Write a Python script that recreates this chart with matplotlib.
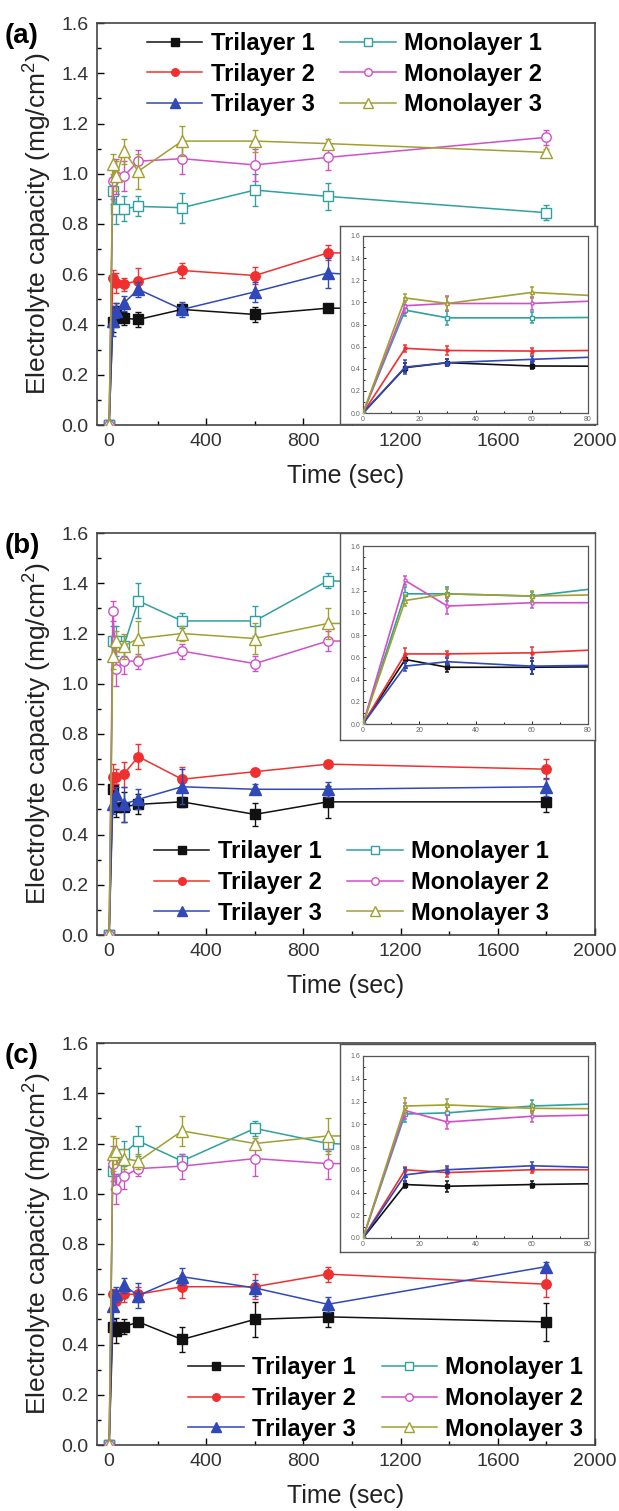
import matplotlib
matplotlib.use("Agg")
import matplotlib.pyplot as plt
from matplotlib.ticker import MultipleLocator

plt.rcParams.update({"font.family": ["Liberation Sans", "DejaVu Sans"], "mathtext.fontset": "custom",
                     "mathtext.rm": "Liberation Sans", "axes.linewidth": 1.2})

# time points (sec)
time = [0, 15, 30, 60, 120, 300, 600, 900, 1800]
labels = ["Trilayer 1", "Trilayer 2", "Trilayer 3", "Monolayer 1", "Monolayer 2", "Monolayer 3"]

# (a)
a_tri1 = [0, 0.41, 0.455, 0.425, 0.42, 0.46, 0.44, 0.465, 0.465]
a_tri2 = [0, 0.585, 0.565, 0.56, 0.575, 0.615, 0.595, 0.685, 0.685]
a_tri3 = [0, 0.415, 0.455, 0.485, 0.54, 0.46, 0.53, 0.605, 0.545]
a_mono1 = [0, 0.93, 0.86, 0.86, 0.87, 0.865, 0.935, 0.91, 0.845]
a_mono2 = [0, 0.97, 0.99, 0.99, 1.05, 1.06, 1.035, 1.065, 1.145]
a_mono3 = [0, 1.04, 0.99, 1.09, 1.01, 1.13, 1.13, 1.12, 1.085]
a_err_tri1 = [0, 0.04, 0.03, 0.025, 0.03, 0.02, 0.03, 0.015, 0.02]
a_err_tri2 = [0, 0.03, 0.04, 0.025, 0.05, 0.03, 0.035, 0.03, 0.03]
a_err_tri3 = [0, 0.06, 0.03, 0.03, 0.03, 0.03, 0.04, 0.06, 0.04]
a_err_mono1 = [0, 0.05, 0.06, 0.05, 0.04, 0.06, 0.065, 0.055, 0.03]
a_err_mono2 = [0, 0.07, 0.07, 0.06, 0.045, 0.06, 0.065, 0.05, 0.03]
a_err_mono3 = [0, 0.04, 0.06, 0.05, 0.07, 0.06, 0.045, 0.02, 0.015]

# (b)
b_tri1 = [0, 0.58, 0.51, 0.51, 0.52, 0.53, 0.48, 0.53, 0.53]
b_tri2 = [0, 0.63, 0.63, 0.64, 0.71, 0.62, 0.65, 0.68, 0.66]
b_tri3 = [0, 0.52, 0.56, 0.52, 0.54, 0.59, 0.58, 0.58, 0.59]
b_mono1 = [0, 1.17, 1.17, 1.15, 1.33, 1.25, 1.25, 1.41, 1.38]
b_mono2 = [0, 1.29, 1.06, 1.09, 1.09, 1.13, 1.08, 1.17, 1.17]
b_mono3 = [0, 1.11, 1.17, 1.15, 1.18, 1.20, 1.18, 1.24, 1.24]
b_err_tri1 = [0, 0.03, 0.04, 0.06, 0.04, 0.02, 0.045, 0.065, 0.04]
b_err_tri2 = [0, 0.05, 0.03, 0.05, 0.05, 0.05, 0.01, 0.01, 0.04]
b_err_tri3 = [0, 0.04, 0.03, 0.07, 0.04, 0.07, 0.02, 0.03, 0.035]
b_err_mono1 = [0, 0.06, 0.06, 0.04, 0.07, 0.03, 0.06, 0.03, 0.02]
b_err_mono2 = [0, 0.04, 0.07, 0.05, 0.03, 0.03, 0.03, 0.04, 0.03]
b_err_mono3 = [0, 0.05, 0.04, 0.05, 0.07, 0.03, 0.06, 0.06, 0.04]

# (c)
c_tri1 = [0, 0.47, 0.455, 0.47, 0.49, 0.42, 0.50, 0.51, 0.49]
c_tri2 = [0, 0.60, 0.575, 0.60, 0.60, 0.63, 0.63, 0.68, 0.64]
c_tri3 = [0, 0.555, 0.60, 0.635, 0.595, 0.67, 0.625, 0.56, 0.71]
c_mono1 = [0, 1.09, 1.10, 1.16, 1.21, 1.13, 1.26, 1.20, 1.17]
c_mono2 = [0, 1.12, 1.02, 1.07, 1.10, 1.11, 1.14, 1.12, 1.12]
c_mono3 = [0, 1.16, 1.17, 1.14, 1.13, 1.25, 1.20, 1.23, 1.23]
c_err_tri1 = [0, 0.03, 0.05, 0.03, 0.01, 0.05, 0.07, 0.04, 0.075]
c_err_tri2 = [0, 0.02, 0.04, 0.03, 0.03, 0.045, 0.05, 0.03, 0.05]
c_err_tri3 = [0, 0.06, 0.03, 0.03, 0.05, 0.035, 0.03, 0.03, 0.02]
c_err_mono1 = [0, 0.07, 0.08, 0.05, 0.06, 0.03, 0.03, 0.03, 0.02]
c_err_mono2 = [0, 0.07, 0.06, 0.05, 0.03, 0.05, 0.07, 0.06, 0.03]
c_err_mono3 = [0, 0.07, 0.05, 0.04, 0.03, 0.06, 0.02, 0.07, 0.03]

colors = ["#111111", "#F03030", "#3048B8", "#30A0A0", "#D050C8", "#A0A030"]
markers = ["s", "o", "^", "s", "o", "^"]
filled = [True, True, True, False, False, False]

W, H = 619, 1511
fig = plt.figure(figsize=(W / 100, H / 100), dpi=100)


def px_axes(x0, y0, x1, y1):
    return fig.add_axes([x0 / W, 1 - y1 / H, (x1 - x0) / W, (y1 - y0) / H])


def draw_series(ax, ys, errs, ms, lw, cap, label=True):
    for i, (y, e) in enumerate(zip(ys, errs)):
        fc = colors[i] if filled[i] else "white"
        ax.errorbar(time, y, yerr=e, fmt="none", ecolor=colors[i], elinewidth=lw * 0.9, capsize=cap,
                    capthick=lw * 0.9, zorder=2 + i)
        ax.plot(time, y, color=colors[i], lw=lw, marker=markers[i], ms=ms * (1.3 if markers[i] == "^" else 1),
                mfc=fc, mec=colors[i], mew=1.0, label=labels[i] if label else None, zorder=3 + i)


def panel(top, tag, ys, errs, leg_xy, inset_outer, inset_inner):
    ax = px_axes(97, top, 595, top + 402)
    draw_series(ax, ys, errs, 6.8, 1.1, 2.5)
    ax.set_xlim(-50, 2000); ax.set_ylim(0, 1.6)
    ax.xaxis.set_major_locator(MultipleLocator(400)); ax.xaxis.set_minor_locator(MultipleLocator(200))
    ax.yaxis.set_minor_locator(MultipleLocator(0.1))
    ax.set_yticks([0, 0.2, 0.4, 0.6, 0.8, 1.0, 1.2, 1.4, 1.6])
    ax.set_yticklabels(["0.0", "0.2", "0.4", "0.6", "0.8", "1.0", "1.2", "1.4", "1.6"])
    ax.tick_params(which="major", direction="in", length=5, width=1, labelsize=14, labelcolor="#333", pad=6)
    ax.tick_params(which="minor", direction="in", length=3, width=1)
    for s in ax.spines.values():
        s.set_color("#444")
    ax.set_xlabel("Time (sec)", fontsize=18, labelpad=10, color="#222")
    ax.set_ylabel(r"Electrolyte capacity (mg/cm$^2$)", fontsize=19, color="#222")
    ax.yaxis.set_label_coords(-0.088, 0.5)
    ax.legend(loc="upper left", bbox_to_anchor=leg_xy, ncol=2, frameon=False, borderpad=0, borderaxespad=0,
              prop={"weight": "bold", "size": 17}, handlelength=2.35, handletextpad=0.35,
              columnspacing=1.1, labelspacing=0.33, markerscale=0.8)
    fig.text(5 / W, 1 - (top + 13) / H, tag, fontsize=20, fontweight="bold", va="center", ha="left")

    # inset: white framed box on top of the main axes
    frame = px_axes(*inset_outer)
    frame.set_xticks([]); frame.set_yticks([])
    for s in frame.spines.values():
        s.set_color("#555"); s.set_linewidth(1.0)
    ins = px_axes(*inset_inner)
    draw_series(ins, ys, errs, 2.2, 1.2, 1.2, label=False)
    ins.set_xlim(0, 80); ins.set_ylim(0, 1.6)
    ins.set_xticks([0, 20, 40, 60, 80])
    ins.set_yticks([0, 0.2, 0.4, 0.6, 0.8, 1.0, 1.2, 1.4, 1.6])
    ins.set_yticklabels(["0.0", "0.2", "0.4", "0.6", "0.8", "1.0", "1.2", "1.4", "1.6"])
    ins.xaxis.set_minor_locator(MultipleLocator(10)); ins.yaxis.set_minor_locator(MultipleLocator(0.1))
    ins.tick_params(which="major", direction="in", length=2.5, width=0.6, labelsize=5, labelcolor="#666", pad=2)
    ins.tick_params(which="minor", direction="in", length=1.5, width=0.6)
    for s in ins.spines.values():
        s.set_color("#555"); s.set_linewidth(0.9)


panel(23, "(a)", [a_tri1, a_tri2, a_tri3, a_mono1, a_mono2, a_mono3],
      [a_err_tri1, a_err_tri2, a_err_tri3, a_err_mono1, a_err_mono2, a_err_mono3],
      (0.10, 0.978), (340, 226, 597, 424), (363, 236, 588, 413))
panel(533, "(b)", [b_tri1, b_tri2, b_tri3, b_mono1, b_mono2, b_mono3],
      [b_err_tri1, b_err_tri2, b_err_tri3, b_err_mono1, b_err_mono2, b_err_mono3],
      (0.114, 0.236), (340, 533, 595, 740), (363, 546, 588, 724))
panel(1043, "(c)", [c_tri1, c_tri2, c_tri3, c_mono1, c_mono2, c_mono3],
      [c_err_tri1, c_err_tri2, c_err_tri3, c_err_mono1, c_err_mono2, c_err_mono3],
      (0.183, 0.221), (340, 1044, 595, 1252), (363, 1056, 588, 1238))

fig.savefig("out.png", dpi=100)
